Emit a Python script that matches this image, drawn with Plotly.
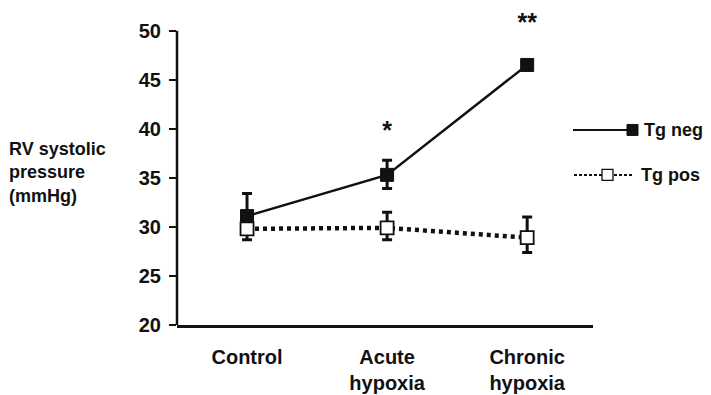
import plotly.graph_objects as go

categories = ["Control", "Acute<br>hypoxia", "Chronic<br>hypoxia"]
tg_neg = [31.1, 35.3, 46.5]
tg_neg_err_up = [2.3, 1.5, 0.0]
tg_neg_err_down = [0.0, 1.4, 0.0]
tg_pos = [29.8, 29.9, 28.9]
tg_pos_err_up = [0.0, 1.6, 2.1]
tg_pos_err_down = [1.1, 1.2, 1.5]
y_ticks = [20, 25, 30, 35, 40, 45, 50]
stars = ["", "<b>*</b>", "<b>**</b>"]
star_y = [None, 39.6, 50.6]

FONT = "Liberation Sans, Arial, sans-serif"
x_idx = list(range(len(categories)))
Y_MIN, Y_MAX, Y_TOP = 20, 50, 52  # axis drawn 20-50, plot area extends to 52 for stars

fig = go.Figure()

fig.add_trace(go.Scatter(
    x=x_idx, y=tg_neg, mode="lines+markers", name="Tg neg",
    line=dict(color="#111", width=2.5),
    marker=dict(symbol="square", size=13, color="#111", line=dict(color="#111", width=1)),
    error_y=dict(type="data", symmetric=False, array=tg_neg_err_up, arrayminus=tg_neg_err_down,
                 color="#111", thickness=3, width=5),
    showlegend=False, cliponaxis=False,
))
fig.add_trace(go.Scatter(
    x=x_idx, y=tg_pos, mode="lines+markers", name="Tg pos",
    line=dict(color="#111", width=4.5, dash="4px,4px"),
    marker=dict(symbol="square", size=13, color="white", line=dict(color="#111", width=1.8)),
    error_y=dict(type="data", symmetric=False, array=tg_pos_err_up, arrayminus=tg_pos_err_down,
                 color="#111", thickness=3, width=5),
    showlegend=False, cliponaxis=False,
))

# significance stars
fig.add_trace(go.Scatter(
    x=x_idx, y=star_y, mode="text", text=stars, textposition="middle center",
    textfont=dict(family=FONT, size=25, color="#111"),
    showlegend=False, cliponaxis=False, hoverinfo="skip",
))

# page body has an 8px margin; work in reference pixel coords and shift
OFF = 8
W, H = 711 - OFF, 395 - OFF
ppu = (325 - 30.7) / (Y_MAX - Y_MIN)  # pixels per unit in reference
L = 177 - OFF
R = W - (593 - OFF)
B = H - (325 - OFF)
T = H - B - (Y_TOP - Y_MIN) * ppu
pw, ph = W - L - R, H - B - T


def px(x):
    return (x - OFF - L) / pw


def py(y):
    return (H - B - (y - OFF)) / ph


# y axis line only from 20 to 50
fig.add_shape(type="line", xref="paper", yref="y", x0=0, x1=0, y0=Y_MIN, y1=Y_MAX,
              line=dict(color="#111", width=2.5))

# legend drawn manually
fig.add_shape(type="line", xref="paper", yref="paper",
              x0=px(573), x1=px(637), y0=py(130), y1=py(130),
              line=dict(color="#111", width=2))
fig.add_shape(type="rect", xref="paper", yref="paper",
              x0=px(627), x1=px(638), y0=py(124.5), y1=py(135.5),
              fillcolor="#111", line=dict(color="#111", width=1))
fig.add_annotation(xref="paper", yref="paper", x=px(642), y=py(130), text="<b>Tg neg</b>",
                   showarrow=False, xanchor="left", font=dict(family=FONT, size=18, color="#111"))

fig.add_shape(type="line", xref="paper", yref="paper",
              x0=px(574), x1=px(632), y0=py(175), y1=py(175),
              line=dict(color="#111", width=2, dash="3px,2px"))
fig.add_shape(type="rect", xref="paper", yref="paper",
              x0=px(602), x1=px(613), y0=py(169.5), y1=py(180.5),
              fillcolor="white", line=dict(color="#111", width=1.3))
fig.add_annotation(xref="paper", yref="paper", x=px(639), y=py(175), text="<b>Tg pos</b>",
                   showarrow=False, xanchor="left", font=dict(family=FONT, size=18, color="#111"))

# y-axis title as horizontal text
fig.add_annotation(xref="paper", yref="paper", x=px(7), y=py(173),
                   text="<b>RV systolic<br>pressure<br>(mmHg)</b>", showarrow=False,
                   xanchor="left", align="left", font=dict(family=FONT, size=18, color="#111"))

fig.update_layout(
    template="none",
    width=W, height=H,
    margin=dict(l=L, r=R, t=T, b=B, pad=0),
    paper_bgcolor="white", plot_bgcolor="white",
    font=dict(family=FONT, size=20, color="#111"),
    xaxis=dict(range=[-0.5, 2.47], tickmode="array", tickvals=x_idx,
               ticktext=["<b>%s</b>" % c for c in categories],
               showline=True, linecolor="#111", linewidth=2.5, ticks="",
               showgrid=False, zeroline=False, ticklabelstandoff=12, automargin=False),
    yaxis=dict(range=[Y_MIN, Y_TOP], tickmode="array", tickvals=y_ticks,
               ticktext=["<b>%d</b>" % v for v in y_ticks],
               showline=False, ticks="outside",
               ticklen=7, tickwidth=2, tickcolor="#111",
               showgrid=False, zeroline=False, ticklabelstandoff=4, automargin=False),
)

fig.write_html("out.html")
